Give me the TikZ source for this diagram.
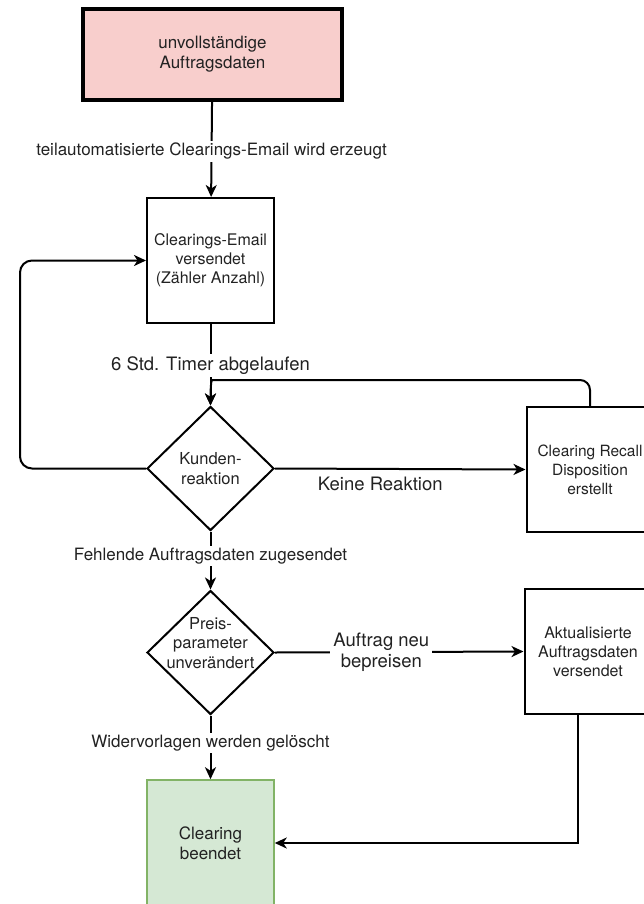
\documentclass[tikz,border=0pt]{standalone}
\usepackage{fontspec}
\setmainfont{TeX Gyre Heros}
\usetikzlibrary{shapes.geometric,arrows.meta}
\definecolor{pinkfill}{HTML}{F8CECC}
\definecolor{greenfill}{HTML}{D5E8D4}
\definecolor{greenline}{HTML}{82B366}
\definecolor{txt}{HTML}{222222}
\begin{document}
\begin{tikzpicture}[x=1pt,y=-1pt,
  box/.style={draw, line width=2pt, rectangle, minimum width=127pt, minimum height=125pt,
    align=center, inner sep=0pt, text=txt, font=\fontsize{16}{19}\selectfont},
  dia/.style={draw, diamond, line width=2pt, minimum width=127pt, minimum height=124pt, inner sep=0pt},
  dtext/.style={align=center, text=txt, font=\fontsize{16.5}{19.5}\selectfont},
  arr/.style={-{Stealth[length=12pt,width=11pt,inset=3.5pt]}, line width=2pt},
  lab/.style={fill=white, inner sep=2pt, text=txt, font=\fontsize{17}{20}\selectfont, align=center},
  biglab/.style={fill=white, inner sep=3pt, text=txt, font=\fontsize{18.5}{21}\selectfont, align=center}
]
\useasboundingbox (0,0) rectangle (644,904);
\clip (0,0) rectangle (644,904);

% nodes
\node[box, fill=pinkfill, line width=4pt, minimum width=259pt, minimum height=91pt,
  font=\fontsize{17}{20}\selectfont] (top) at (212.5,54.5) {unvollständige\\Auftragsdaten};
\node[box] (b2) at (210.5,260.5) {Clearings-Email\\versendet\\(Zähler Anzahl)};
\node[dia] (d1) at (210.5,468.5) {};
\node[dtext] (d1t) at (210.5,468.5) {Kunden-\\reaktion};
\node[box, font=\fontsize{15.5}{19}\selectfont] (rc) at (590,469.5) {Clearing Recall\\Disposition\\erstellt};
\node[dia] (d2) at (210.5,652.5) {};
\node[dtext] (d2t) at (210.5,643) {Preis-\\parameter\\unverändert};
\node[box] (akt) at (588,651.5) {Aktualisierte\\Auftragsdaten\\versendet};
\node[box, fill=greenfill, draw=greenline, line width=1.5pt, minimum height=126pt,
  font=\fontsize{17}{20}\selectfont] (gr) at (210.5,843) {Clearing\\beendet};

\coordinate (lft) at (20,0);
\coordinate (rcb) at (222,380);

% connectors
\draw[arr] (top) -- node[lab, pos=0.52] {teilautomatisierte Clearings-Email wird erzeugt} (b2);
\draw[arr] (b2) -- node[biglab, pos=0.51] {6 Std. Timer abgelaufen} (d1.north);
\draw[arr, rounded corners=10pt] (rc.north) |- (rcb) .. controls +(-11,0) and +(0,-14) .. (d1.north);
\draw[arr, rounded corners=12pt] (d1.west) -- (d1.west -| lft) |- (b2.west);
\draw[arr] (d1.east) -- node[pos=0.42, yshift=-14.5pt, text=txt, font=\fontsize{18.5}{21}\selectfont] {Keine Reaktion} (rc.west);
\draw[arr] (d1.south) -- node[lab, pos=0.42] {Fehlende Auftragsdaten zugesendet} (d2.north);
\draw[arr] (d2.east) -- node[biglab, pos=0.428] {Auftrag neu\\bepreisen} (akt.west);
\draw[arr] (d2.south) -- node[lab, pos=0.43] {Widervorlagen werden gelöscht} (gr.north);
\draw[arr] ([xshift=-10pt]akt.south) |- (gr.east);
\end{tikzpicture}
\end{document}
